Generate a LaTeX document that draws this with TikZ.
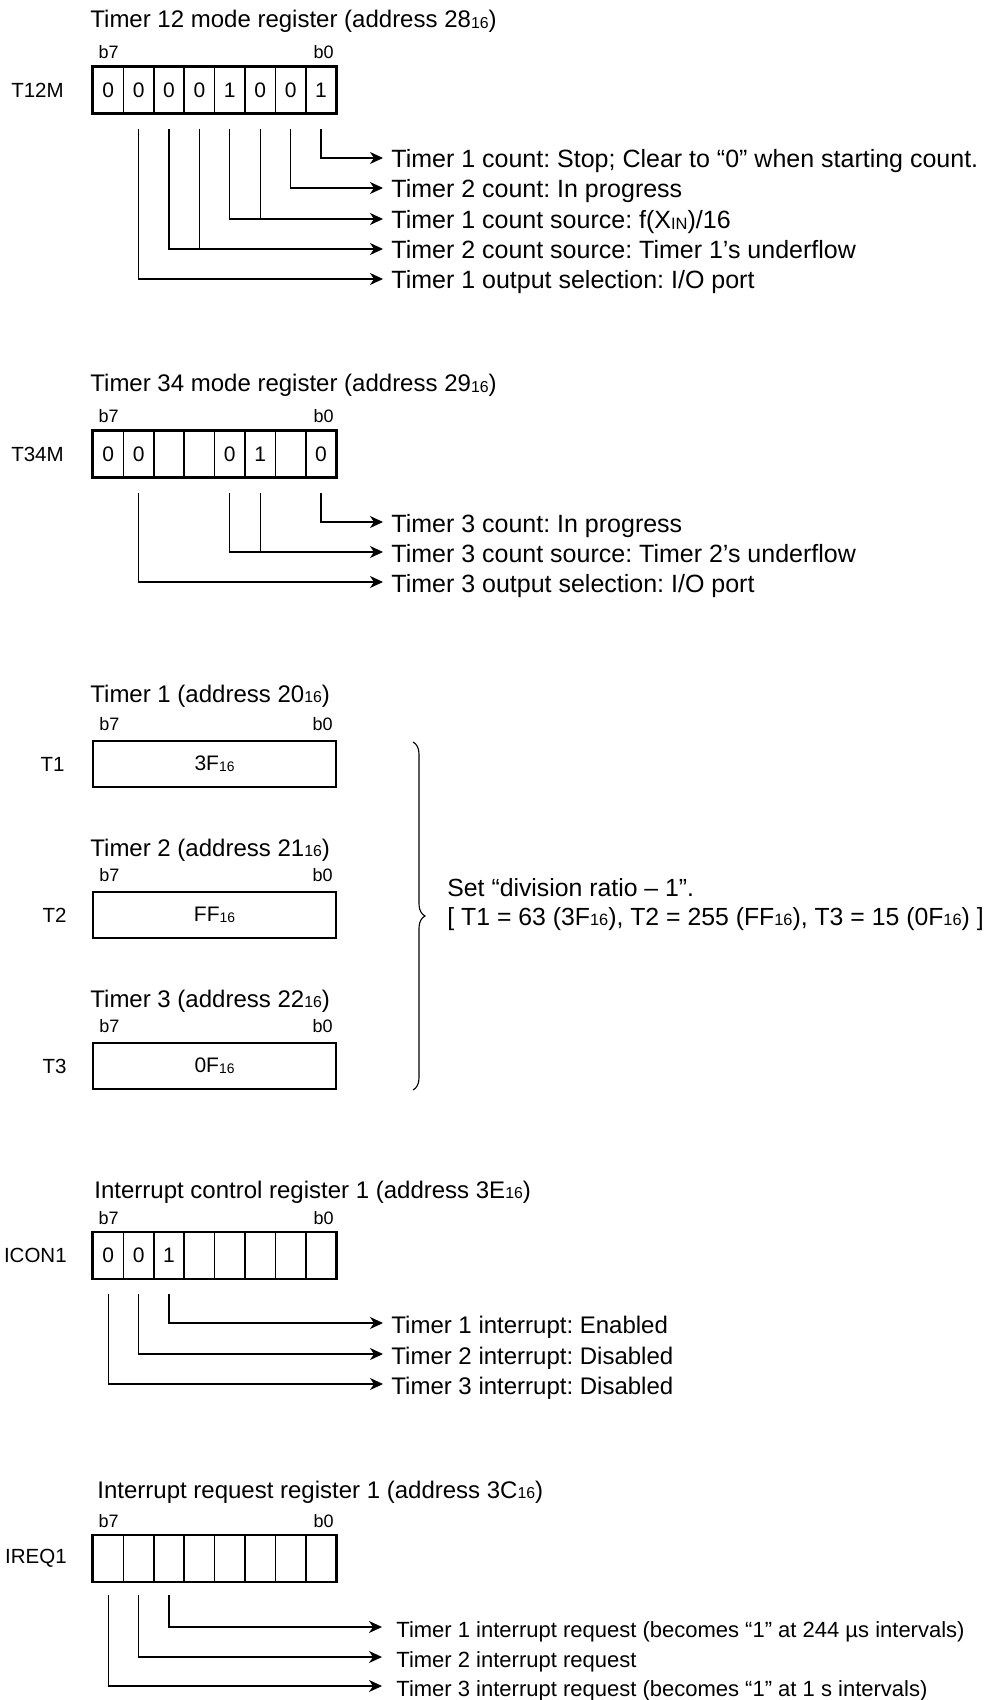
\documentclass[tikz,border=0pt]{standalone}
\usepackage{fontspec}
\setmainfont{Liberation Sans}
\usepackage{graphicx}
\usetikzlibrary{arrows.meta, positioning, fit, decorations.pathreplacing}
\frenchspacing

\newcommand{\hexsub}{\raisebox{-0.4pt}{\scalebox{0.66}{16}}}
\newcommand{\insub}{\raisebox{-0.4pt}{\scalebox{0.66}{IN}}}

\tikzset{
  cell/.style={draw, line width=0.8pt, minimum width=15.2pt, minimum height=23pt,
               inner sep=0pt, font=\fontsize{10.5}{12}\selectfont},
  regbox/.style={draw, line width=1.1pt, inner sep=0pt},
  reglabel/.style={inner sep=0pt, font=\fontsize{10.25}{12}\selectfont},
  bitlabel/.style={inner sep=0pt, font=\fontsize{9}{10}\selectfont},
  regtitle/.style={anchor=base west, inner sep=0pt, font=\fontsize{12}{14}\selectfont},
  desc/.style={anchor=west, inner xsep=4pt, inner ysep=0pt, text height=10pt,
               text depth=0pt, font=\fontsize{12.5}{14}\selectfont},
  link/.style={line width=0.55pt},
  arr/.style={link, -{Stealth[length=6.5pt, width=6pt, inset=2pt]}},
}

\begin{document}
\begin{tikzpicture}[x=0.5pt, y=-0.5pt]
  \useasboundingbox (0,0) rectangle (984,1700);

  % Timer 12 mode register
  \node[regtitle] (t12mtitle) at (90,28) {Timer 12 mode register (address 28\hexsub)};
  \foreach \v [count=\i from 0] in {0,0,0,0,1,0,0,1} {
    \pgfmathtruncatemacro\b{7-\i}
    \node[cell] (t12m\b) at ({108.2+30.4*\i},90) {\v};
  }
  \node[regbox, fit=(t12m7)(t12m0)] (t12m) {};
  \node[reglabel, left=13.5pt of t12m] (t12mname) {T12M};
  \node[bitlabel, above right=3pt and 3.5pt of t12m.north west] (t12mb7) {b7};
  \node[bitlabel, above left=3pt and 2pt of t12m.north east] (t12mb0) {b0};
  \node[desc] (t12md1) at (383,158) {Timer 1 count: Stop; Clear to “0” when starting count.};
  \node[desc] (t12md2) at (383,188) {Timer 2 count: In progress};
  \node[desc] (t12md3) at (383,219) {Timer 1 count source: f(X\insub)/16};
  \node[desc] (t12md4) at (383,249) {Timer 2 count source: Timer 1’s underflow};
  \node[desc] (t12md5) at (383,279) {Timer 1 output selection: I/O port};
  \draw[arr] ([yshift=-7.5pt]t12m0.south) |- (t12md1.west);
  \draw[arr] ([yshift=-7.5pt]t12m1.south) |- (t12md2.west);
  \draw[arr] ([yshift=-7.5pt]t12m3.south) |- (t12md3.west);
  \draw[link] ([yshift=-7.5pt]t12m2.south) -- (t12m2 |- t12md3.west);
  \draw[arr] ([yshift=-7.5pt]t12m5.south) |- (t12md4.west);
  \draw[link] ([yshift=-7.5pt]t12m4.south) -- (t12m4 |- t12md4.west);
  \draw[arr] ([yshift=-7.5pt]t12m6.south) |- (t12md5.west);

  % Timer 34 mode register
  \node[regtitle] (t34mtitle) at (90,392) {Timer 34 mode register (address 29\hexsub)};
  \foreach \v [count=\i from 0] in {0,0,{},{},0,1,{},0} {
    \pgfmathtruncatemacro\b{7-\i}
    \node[cell] (t34m\b) at ({108.2+30.4*\i},454) {\v};
  }
  \node[regbox, fit=(t34m7)(t34m0)] (t34m) {};
  \node[reglabel, left=13.5pt of t34m] (t34mname) {T34M};
  \node[bitlabel, above right=3pt and 3.5pt of t34m.north west] (t34mb7) {b7};
  \node[bitlabel, above left=3pt and 2pt of t34m.north east] (t34mb0) {b0};
  \node[desc] (t34md1) at (383,522) {Timer 3 count: In progress};
  \node[desc] (t34md2) at (383,552) {Timer 3 count source: Timer 2’s underflow};
  \node[desc] (t34md3) at (383,582) {Timer 3 output selection: I/O port};
  \draw[arr] ([yshift=-7.5pt]t34m0.south) |- (t34md1.west);
  \draw[arr] ([yshift=-7.5pt]t34m3.south) |- (t34md2.west);
  \draw[link] ([yshift=-7.5pt]t34m2.south) -- (t34m2 |- t34md2.west);
  \draw[arr] ([yshift=-7.5pt]t34m6.south) |- (t34md3.west);

  % Timers 1, 2, 3
  \node[regtitle] (t1title) at (90,702) {Timer 1 (address 20\hexsub)};
  \node[regbox, minimum width=121.5pt, minimum height=23pt,
        font=\fontsize{10.5}{12}\selectfont] (t1) at (214.5,764) {3F\hexsub};
  \node[reglabel, left=13.5pt of t1] (t1name) {T1};
  \node[bitlabel, above right=4.5pt and 3.5pt of t1.north west] (t1b7) {b7};
  \node[bitlabel, above left=4.5pt and 2pt of t1.north east] (t1b0) {b0};

  \node[regtitle] (t2title) at (90,856) {Timer 2 (address 21\hexsub)};
  \node[regbox, minimum width=121.5pt, minimum height=23pt,
        font=\fontsize{10.5}{12}\selectfont] (t2) at (214.5,915) {FF\hexsub};
  \node[reglabel, left=12.5pt of t2] (t2name) {T2};
  \node[bitlabel, above right=4.5pt and 3.5pt of t2.north west] (t2b7) {b7};
  \node[bitlabel, above left=4.5pt and 2pt of t2.north east] (t2b0) {b0};

  \node[regtitle] (t3title) at (90,1007) {Timer 3 (address 22\hexsub)};
  \node[regbox, minimum width=121.5pt, minimum height=23pt,
        font=\fontsize{10.5}{12}\selectfont] (t3) at (214.5,1066) {0F\hexsub};
  \node[reglabel, left=12.5pt of t3] (t3name) {T3};
  \node[bitlabel, above right=4.5pt and 3.5pt of t3.north west] (t3b7) {b7};
  \node[bitlabel, above left=4.5pt and 2pt of t3.north east] (t3b0) {b0};

  \coordinate (brtop) at (413,742);
  \coordinate (brbot) at (413,1090);
  \draw[link, decorate, decoration={brace, amplitude=6pt}] (brtop) -- (brbot);
  \node[regtitle, font=\fontsize{12.4}{14}\selectfont] (ratio1) at (447,896) {Set “division ratio – 1”.};
  \node[regtitle, font=\fontsize{12.4}{14}\selectfont] (ratio2) at (447,925)
    {[ T1 = 63 (3F\hexsub), T2 = 255 (FF\hexsub), T3 = 15 (0F\hexsub) ]};

  % Interrupt control register 1
  \node[regtitle] (icontitle) at (94,1198) {Interrupt control register 1 (address 3E\hexsub)};
  \foreach \v [count=\i from 0] in {0,0,1,{},{},{},{},{}} {
    \pgfmathtruncatemacro\b{7-\i}
    \node[cell] (icon\b) at ({108.2+30.4*\i},1255.5) {\v};
  }
  \node[regbox, fit=(icon7)(icon0)] (icon) {};
  \node[reglabel, left=12pt of icon] (iconname) {ICON1};
  \node[bitlabel, above right=3pt and 3.5pt of icon.north west] (iconb7) {b7};
  \node[bitlabel, above left=3pt and 2pt of icon.north east] (iconb0) {b0};
  \node[desc, font=\fontsize{12}{14}\selectfont] (icond1) at (383,1323) {Timer 1 interrupt: Enabled};
  \node[desc, font=\fontsize{12}{14}\selectfont] (icond2) at (383,1354) {Timer 2 interrupt: Disabled};
  \node[desc, font=\fontsize{12}{14}\selectfont] (icond3) at (383,1384) {Timer 3 interrupt: Disabled};
  \draw[arr] ([yshift=-7.5pt]icon5.south) |- (icond1.west);
  \draw[arr] ([yshift=-7.5pt]icon6.south) |- (icond2.west);
  \draw[arr] ([yshift=-7.5pt]icon7.south) |- (icond3.west);

  % Interrupt request register 1
  \node[regtitle] (ireqtitle) at (97,1498) {Interrupt request register 1 (address 3C\hexsub)};
  \foreach \i in {0,...,7} {
    \pgfmathtruncatemacro\b{7-\i}
    \node[cell] (ireq\b) at ({108.2+30.4*\i},1558.5) {};
  }
  \node[regbox, fit=(ireq7)(ireq0)] (ireq) {};
  \node[reglabel, left=12pt of ireq] (ireqname) {IREQ1};
  \node[bitlabel, above right=3pt and 3.5pt of ireq.north west] (ireqb7) {b7};
  \node[bitlabel, above left=3pt and 2pt of ireq.north east] (ireqb0) {b0};
  \node[desc, inner xsep=7pt, font=\fontsize{11}{13}\selectfont] (ireqd1) at (382,1627)
    {Timer 1 interrupt request (becomes “1” at 244 µs intervals)};
  \node[desc, inner xsep=7pt, font=\fontsize{11}{13}\selectfont] (ireqd2) at (382,1657)
    {Timer 2 interrupt request};
  \node[desc, inner xsep=7pt, font=\fontsize{11}{13}\selectfont] (ireqd3) at (382,1686)
    {Timer 3 interrupt request (becomes “1” at 1 s intervals)};
  \draw[arr] ([yshift=-6.5pt]ireq5.south) |- (ireqd1.west);
  \draw[arr] ([yshift=-6.5pt]ireq6.south) |- (ireqd2.west);
  \draw[arr] ([yshift=-6.5pt]ireq7.south) |- (ireqd3.west);
\end{tikzpicture}
\end{document}
